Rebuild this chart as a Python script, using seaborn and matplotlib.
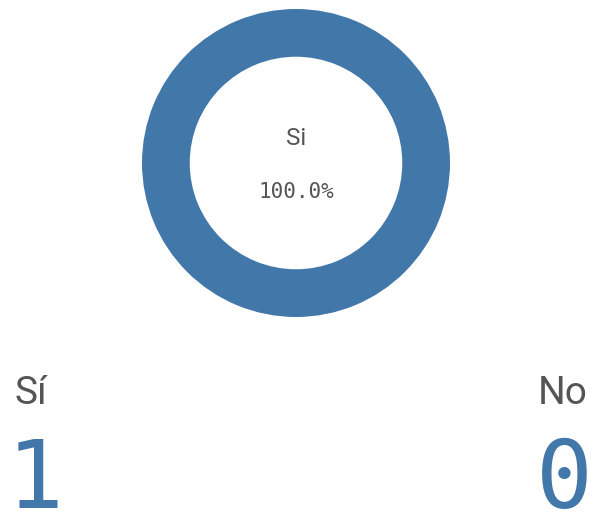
import matplotlib
matplotlib.use("Agg")
import matplotlib.pyplot as plt
import seaborn as sns

# Survey answers and their counts
categories = ["Sí", "No"]
counts = [1, 0]
center_label = "Si"

sns.set_theme(style="white")
plt.rcParams["font.family"] = ["Roboto", "DejaVu Sans"]

blue = "#4277aa"
grey = "#555555"
mono = ["DejaVu Sans Mono"]

W, H = 590, 513
fig = plt.figure(figsize=(W / 100, H / 100), dpi=100)
fig.patch.set_facecolor("white")

# Donut chart
ax = fig.add_axes([142 / W, (H - 317) / H, 308 / W, 308 / H])
palette = [blue, "#dddddd"]
total = sum(counts)
ax.pie(counts, colors=palette, radius=1.0, startangle=90, counterclock=False,
       wedgeprops=dict(width=0.31, edgecolor="none"))
ax.set_xlim(-1, 1)
ax.set_ylim(-1, 1)
ax.set_aspect("equal")
ax.axis("off")

share = counts[0] / total * 100
ax.text(0, 0.16, center_label, ha="center", va="center", fontsize=17.5,
        color=grey, family=["Roboto"])
ax.text(0, -0.19, f"{share:.1f}%", ha="center", va="center", fontsize=15,
        color=grey, family=mono)

# Count summary below the donut
fig.text(14 / W, 1 - 394 / H, categories[0], ha="left", va="center",
         fontsize=28, color=grey, family=["Roboto"])
fig.text(588 / W, 1 - 394 / H, categories[1], ha="right", va="center",
         fontsize=28, color=grey, family=["Roboto"])
fig.text(7 / W, 1 - 508 / H, str(counts[0]), ha="left", va="baseline",
         fontsize=68, color=blue, family=mono)
fig.text(593 / W, 1 - 508 / H, str(counts[1]), ha="right", va="baseline",
         fontsize=68, color=blue, family=mono)

fig.savefig("out.png", dpi=100)
